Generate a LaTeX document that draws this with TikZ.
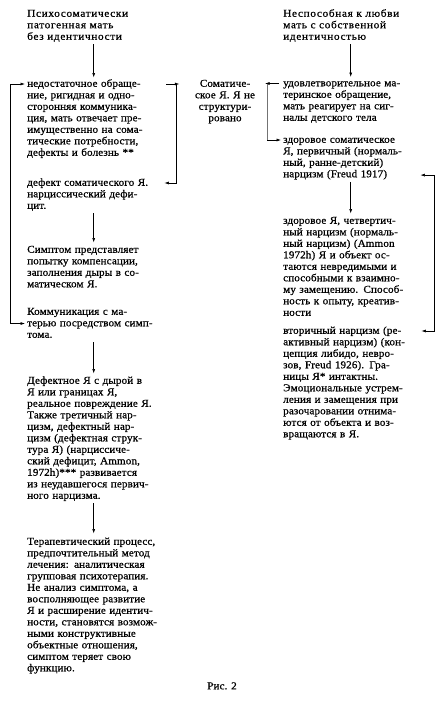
\documentclass[tikz,border=0pt]{standalone}
\usepackage{fontspec}
\setmainfont{Liberation Serif}[FakeStretch=1.06, LetterSpace=1, FakeBold=0.6]
\newfontfamily\headfont{Liberation Serif}[FakeStretch=1.08, LetterSpace=6, FakeBold=0.6]
\usetikzlibrary{arrows.meta,calc}
\setlength{\parindent}{0pt}
\newcommand{\J}[1]{\makebox[\hsize][s]{#1}}
\begin{document}
\begin{tikzpicture}[x=1pt,y=-1pt,
  txt/.style={inner sep=0pt, font=\fontsize{10.5}{11.5}\selectfont, execute at begin node=\strut, execute at end node=\strut},
  colL/.style={txt, text width=133pt, align=left, anchor=north west},
  colR/.style={txt, text width=135pt, align=left, anchor=north west},
  headL/.style={colL, font=\headfont\fontsize{10.5}{11.5}\selectfont},
  headR/.style={colR, font=\headfont\fontsize{10.5}{11.5}\selectfont},
  midtext/.style={txt, text width=80pt, align=center, anchor=north},
  arr/.style={line width=0.6pt, -{Latex[length=4.5pt,width=3pt]}},
  arrboth/.style={line width=0.6pt, {Latex[length=4.5pt,width=3pt]}-{Latex[length=4.5pt,width=3pt]}},
  faint/.style={line width=0.4pt, black!55}]
\fill[white] (0,0) rectangle (445,701);
\useasboundingbox (0,0) rectangle (445,701);

% left column
\node[headL] (nA) at (27,8.5) {Психосоматически\\патогенная мать\\без идентичности};
\node[colL] (nB) at (27,78.5) {\J{недостаточное обраще-}\\\J{ние, ригидная и одно-}\\\J{сторонняя коммуника-}\\\J{ция, мать отвечает пре-}\\\J{имущественно на сома-}\\тические потребности,\\дефекты и болезнь **};
\node[colL] (nC) at (27,177.5) {\J{дефект соматического Я.}\\нарциссический дефи-\\цит.};
\node[colL] (nD) at (27,244.5) {Симптом представляет\\попытку компенсации,\\\J{заполнения дыры в со-}\\матическом Я.};
\node[colL] (nE) at (27,306.5) {Коммуникация с ма-\\\J{терью посредством симп-}\\тома.};
\node[colL] (nF) at (27,375.5) {\J{Дефектное Я с дырой в}\\Я или границах Я,\\\J{реальное повреждение Я.}\\Также третичный нар-\\цизм, дефектный нар-\\\J{цизм (дефектная струк-}\\\J{тура Я) (нарциссиче-}\\\J{ский дефицит, Ammon,}\\1972h)*** развивается\\\J{из неудавшегося первич-}\\ного нарцизма.};
\node[colL] (nG) at (27,536.5) {\J{Терапевтический процесс,}\\\J{предпочтительный метод}\\\J{лечения: аналитическая}\\\J{групповая психотерапия.}\\\J{Не анализ симптома, а}\\восполняющее развитие\\\J{Я и расширение идентич-}\\\J{ности, становятся возмож-}\\ными конструктивные\\объектные отношения,\\симптом теряет свою\\функцию.};

% middle
\node[midtext] (nM) at (225,78.5) {Соматиче-\\ское Я. Я не\\структури-\\ровано};

% right column
\node[headR] (nH) at (283,8.5) {Неспособная к любви\\мать с собственной\\идентичностью};
\node[colR] (nI) at (283,78) {\J{удовлетворительное ма-}\\теринское обращение,\\\J{мать реагирует на сиг-}\\налы детского тела};
\node[colR] (nJ) at (283,134.5) {здоровое соматическое\\\J{Я, первичный (нормаль-}\\ный, ранне-детский)\\нарцизм (Freud 1917)};
\node[colR] (nK) at (283,215.5) {\J{здоровое Я, четвертич-}\\\J{ный нарцизм (нормаль-}\\\J{ный нарцизм) (Ammon}\\\J{1972h) Я и объект ос-}\\\J{таются невредимыми и}\\\J{способными к взаимно-}\\\J{му замещению. Способ-}\\\J{ность к опыту, креатив-}\\ности};
\node[colR] (nL) at (283,325.5) {\J{вторичный нарцизм (ре-}\\\J{активный нарцизм) (кон-}\\\J{цепция либидо, невро-}\\\J{зов, Freud 1926). Гра-}\\ницы Я* интактны.\\\J{Эмоциональные устрем-}\\\J{ления и замещения при}\\\J{разочаровании отнима-}\\\J{ются от объекта и воз-}\\вращаются в Я.};

\node[txt] (cap) at (222,687) {Рис. 2};

% vertical arrows
\draw[arr, shorten <=1pt, shorten >=1pt] (nA.south) -- (nB.north);
\draw[arr, shorten <=1pt, shorten >=2pt] (nC.south) -- (nD.north);
\draw[arr, shorten <=1pt, shorten >=2pt] (nE.south) -- (nF.north);
\draw[arr, shorten <=1pt, shorten >=3pt] (nF.south) -- (nG.north);
\draw[arr, shorten <=1pt, shorten >=1pt] (nH.south) -- (nI.north);
\draw[arr, shorten <=1pt, shorten >=2pt] (nJ.south) -- (nK.north);

% left bracket
\coordinate (lt) at ($(nB.north west)+(-17,5.5)$);
\coordinate (lb) at ($(nE.north west)+(-17,17)$);
\draw[arrboth] ($(nB.north west)+(-2,5.5)$) -- (lt) -- (lb) -- ($(nE.north west)+(-2,17)$);

% middle bracket
\draw[arr] ($(nB.north east)+(6,5.5)$) -- ($(nB.north east)+(19,5.5)$);
\coordinate (mt) at ($(nB.north east)+(16,5.5)$);
\coordinate (mb) at ($(nC.north east)+(16,5.5)$);
\draw[arr] (mt) -- (mb) -- ($(nC.north east)+(4,5.5)$);

% right-middle bracket
\coordinate (rt) at ($(nI.north west)+(-16,5.5)$);
\coordinate (rb) at ($(nJ.north west)+(-16,5.5)$);
\draw[arr] ($(nI.north west)+(-4,5.5)$) -- ($(nI.north west)+(-18,5.5)$);
\draw[faint] (rt) -- (rb);
\draw[arr] (rb) -- ($(nJ.north west)+(-2,5.5)$);

% far right bracket
\coordinate (ft) at ($(nJ.south east)+(16,-5.8)$);
\coordinate (fb) at ($(nL.north east)+(16,5.5)$);
\draw[arrboth] ($(nJ.south east)+(2,-5.8)$) -- (ft) -- (fb) -- ($(nL.north east)+(3,5.5)$);
\end{tikzpicture}
\end{document}
